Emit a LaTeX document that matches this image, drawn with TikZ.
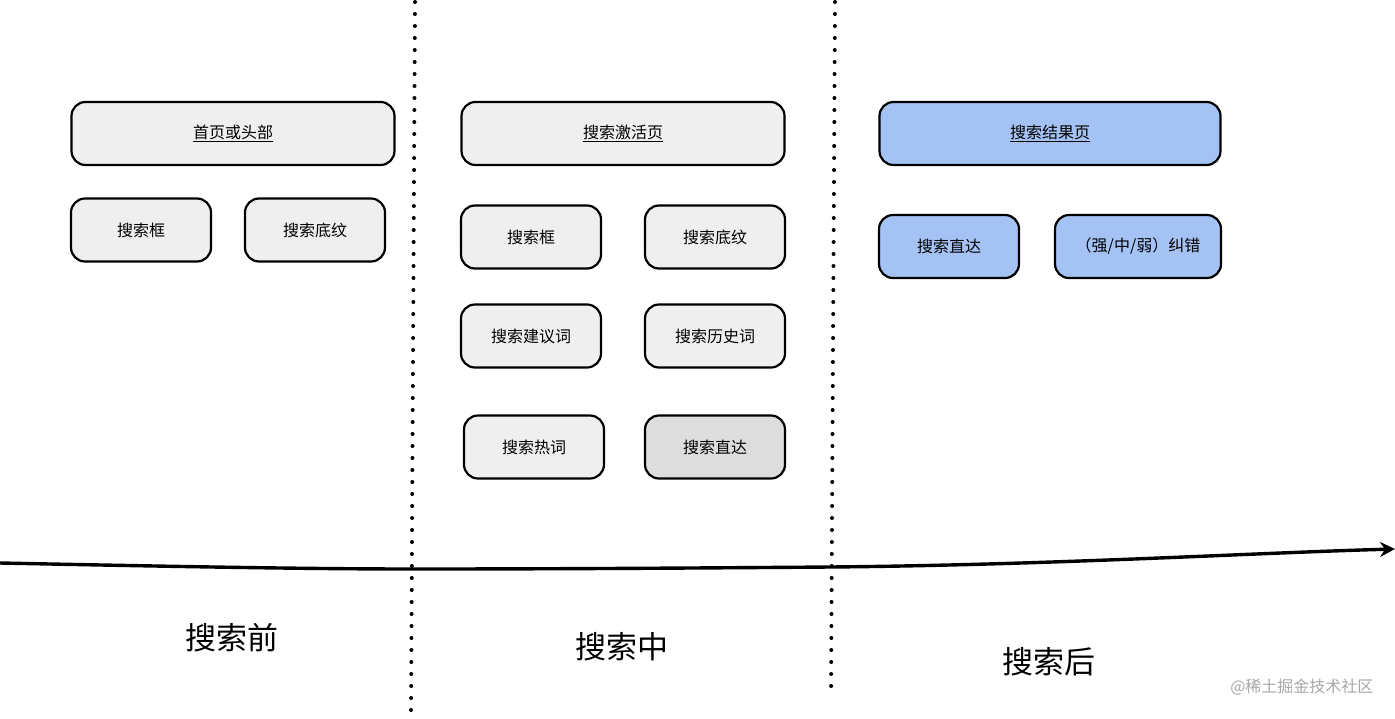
\documentclass[tikz,border=0pt]{standalone}
\usepackage{fontspec}
\setmainfont{Noto Sans CJK SC}
\usetikzlibrary{arrows.meta}
\definecolor{boxgray}{HTML}{EFEFEF}
\definecolor{boxdark}{HTML}{DDDDDD}
\definecolor{boxblue}{HTML}{A4C2F4}
\definecolor{wmgray}{HTML}{A8A8A8}
\begin{document}
\begin{tikzpicture}[x=1pt,y=-1pt,
  card/.style={draw=black, line width=2.2pt, rounded corners=14pt, fill=boxgray,
    inner sep=0pt, font=\fontsize{16}{18}\selectfont},
  wide/.style={card, minimum width=323pt, minimum height=63pt},
  small/.style={card, minimum width=140pt, minimum height=63pt},
  bluecard/.style={fill=boxblue},
  phase/.style={font=\fontsize{31}{36}\selectfont},
  divider/.style={line width=4pt, line cap=round, dash pattern=on 0pt off 12pt},
  timeline/.style={line width=3.4pt, -{Stealth[length=15pt,width=15pt,inset=5pt]}}
]
\useasboundingbox[fill=white] (0,0) rectangle (1395,718);

% dividers
\coordinate (d1t) at (415,2);
\coordinate (d1b) at (411,716);
\coordinate (d2t) at (835,2);
\coordinate (d2b) at (831,696);
\draw[divider] (d1t) -- (d1b);
\draw[divider] (d2t) -- (d2b);

% timeline
\coordinate (a0) at (0,563);
\coordinate (a1) at (413,569);
\coordinate (a2) at (830,567);
\coordinate (a3) at (1395,549);
\draw[timeline] (a0) .. controls (150,566) and (300,569) .. (a1)
  .. controls (560,569) and (700,568) .. (a2)
  .. controls (1050,565) and (1250,553) .. (a3);

% before
\node[wide] (home) at (233,133.5) {\underline{首页或头部}};
\node[small] (box1) at (141,230) {搜索框};
\node[small] (shade1) at (315,230) {搜索底纹};

% during
\node[wide] (active) at (623,133.5) {\underline{搜索激活页}};
\node[small] (box2) at (531,237) {搜索框};
\node[small] (shade2) at (715,237) {搜索底纹};
\node[small] (sugg) at (531,336) {搜索建议词};
\node[small] (hist) at (715,336) {搜索历史词};
\node[small] (hot) at (534,447) {搜索热词};
\node[small, fill=boxdark] (direct2) at (715,447) {搜索直达};

% after
\node[card, bluecard, minimum width=341pt, minimum height=63pt] (result) at (1050,133.5) {\underline{搜索结果页}};
\node[small, bluecard] (direct3) at (949,246.5) {搜索直达};
\node[card, bluecard, minimum width=166pt, minimum height=63pt] (correct) at (1138,246.5) {（强/中/弱）纠错};

% phase labels
\node[phase] (pre) at (232,638) {搜索前};
\node[phase] (mid) at (622,647) {搜索中};
\node[phase] (post) at (1049,662) {搜索后};

% watermark
\node[text=wmgray, font=\fontsize{16}{18}\selectfont, anchor=east] (wm) at (1377,687) {@稀土掘金技术社区};
\end{tikzpicture}
\end{document}
